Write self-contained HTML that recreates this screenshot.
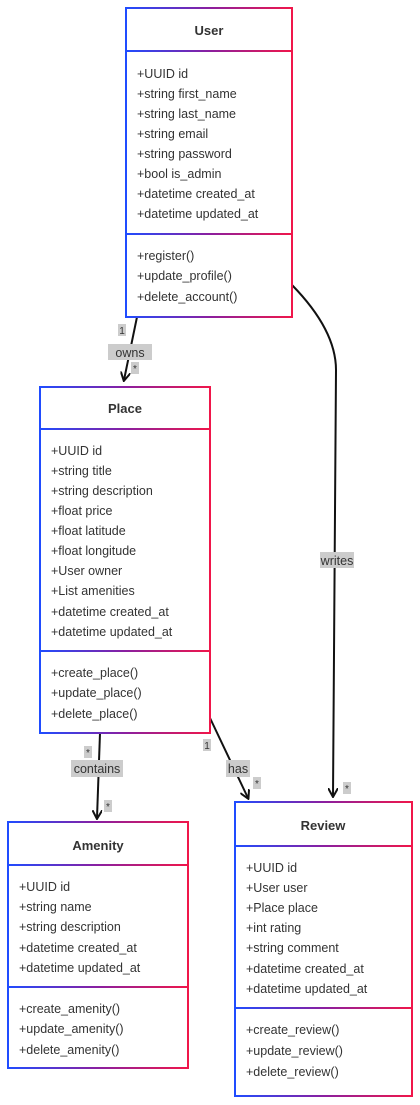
<!DOCTYPE html>
<html><head><style>body{margin:0;background:#fff}svg{display:block}text{font-family:"Liberation Sans",Arial,sans-serif;fill:#333}</style></head>
<body>
<svg width="420" height="1105" viewBox="0 0 420 1105" xmlns="http://www.w3.org/2000/svg">
<defs>
<linearGradient id="g" x1="0" y1="0" x2="1" y2="0"><stop offset="0" stop-color="#1f4cff"/><stop offset="0.5" stop-color="#8a1fa0"/><stop offset="1" stop-color="#f0164a"/></linearGradient>
<marker id="a" markerWidth="10" markerHeight="10" refX="8" refY="5" orient="auto" markerUnits="userSpaceOnUse"><path d="M0,0 L9,5 L0,10" fill="none" stroke="#111" stroke-width="2"/></marker>
</defs>
<g stroke="#111" stroke-width="2" fill="none">
<path d="M137,317 L124,380" marker-end="url(#a)"/>
<path d="M292,285 Q336,330 336,370 L333,796" marker-end="url(#a)"/>
<path d="M100,733 L97,818" marker-end="url(#a)"/>
<path d="M210,718 L248,798" marker-end="url(#a)"/>
</g>
<g fill="#ccc"><rect x="108" y="344" width="44" height="16"/><rect x="320" y="552" width="34" height="16"/><rect x="71" y="760" width="52" height="17"/><rect x="226" y="760" width="24" height="17"/>
<rect x="118" y="324" width="8" height="12"/><rect x="131" y="362" width="8" height="12"/><rect x="343" y="782" width="8" height="12"/><rect x="84" y="746" width="8" height="12"/><rect x="104" y="800" width="8" height="12"/><rect x="203" y="739" width="8" height="12"/><rect x="253" y="777" width="8" height="12"/></g>
<g font-size="12.5" text-anchor="middle"><text x="130" y="357">owns</text><text x="337" y="565">writes</text><text x="97" y="773">contains</text><text x="238" y="773">has</text>
<g font-size="10"><text x="122" y="334">1</text><text x="135" y="372">*</text><text x="347" y="792">*</text><text x="88" y="756">*</text><text x="108" y="810">*</text><text x="207" y="749">1</text><text x="257" y="787">*</text></g></g>
<g stroke="url(#g)" stroke-width="2" fill="#fff">
<rect x="126" y="8" width="166" height="309"/>
<rect x="40" y="387" width="170" height="346"/>
<rect x="8" y="822" width="180" height="246"/>
<rect x="235" y="802" width="177" height="294"/>
</g>
<g fill="url(#g)">
<rect x="126" y="50" width="166" height="2"/><rect x="126" y="233" width="166" height="2"/>
<rect x="40" y="428" width="170" height="2"/><rect x="40" y="650" width="170" height="2"/>
<rect x="8" y="864" width="180" height="2"/><rect x="8" y="986" width="180" height="2"/>
<rect x="235" y="845" width="177" height="2"/><rect x="235" y="1007" width="177" height="2"/>
</g>
<g font-size="13" font-weight="bold" text-anchor="middle"><text x="209" y="35">User</text><text x="125" y="413">Place</text><text x="98" y="850">Amenity</text><text x="323" y="830">Review</text></g>
<g font-size="12.5">
<text x="137" y="78">+UUID id</text><text x="137" y="98">+string first_name</text><text x="137" y="118">+string last_name</text><text x="137" y="138">+string email</text><text x="137" y="158">+string password</text><text x="137" y="178">+bool is_admin</text><text x="137" y="198">+datetime created_at</text><text x="137" y="218">+datetime updated_at</text>
<text x="137" y="260">+register()</text><text x="137" y="280">+update_profile()</text><text x="137" y="301">+delete_account()</text>
<text x="51" y="455">+UUID id</text><text x="51" y="475">+string title</text><text x="51" y="495">+string description</text><text x="51" y="515">+float price</text><text x="51" y="535">+float latitude</text><text x="51" y="555">+float longitude</text><text x="51" y="575">+User owner</text><text x="51" y="595">+List amenities</text><text x="51" y="616">+datetime created_at</text><text x="51" y="636">+datetime updated_at</text>
<text x="51" y="677">+create_place()</text><text x="51" y="697">+update_place()</text><text x="51" y="718">+delete_place()</text>
<text x="19" y="891">+UUID id</text><text x="19" y="911">+string name</text><text x="19" y="931">+string description</text><text x="19" y="952">+datetime created_at</text><text x="19" y="972">+datetime updated_at</text>
<text x="19" y="1013">+create_amenity()</text><text x="19" y="1033">+update_amenity()</text><text x="19" y="1054">+delete_amenity()</text>
<text x="246" y="872">+UUID id</text><text x="246" y="892">+User user</text><text x="246" y="912">+Place place</text><text x="246" y="932">+int rating</text><text x="246" y="952">+string comment</text><text x="246" y="973">+datetime created_at</text><text x="246" y="993">+datetime updated_at</text>
<text x="246" y="1034">+create_review()</text><text x="246" y="1055">+update_review()</text><text x="246" y="1076">+delete_review()</text>
</g>
</svg>
</body></html>
